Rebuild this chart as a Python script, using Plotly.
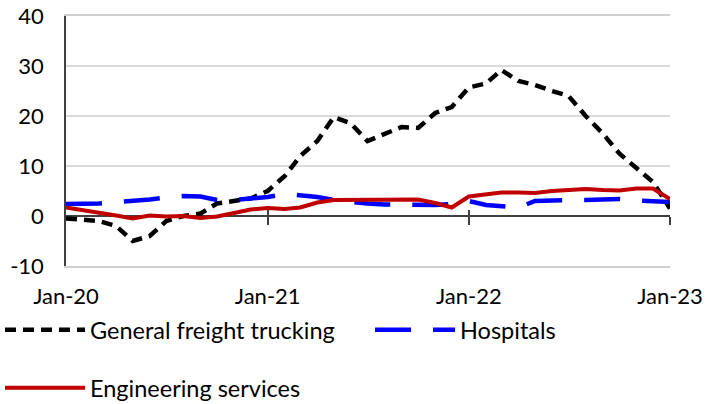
import plotly.graph_objects as go
import pandas as pd

months = pd.date_range("2020-01-01", "2023-01-01", freq="MS")

trucking = [-0.5, -0.7, -1.0, -2.0, -5.0, -4.0, -1.0, 0.0, 0.5, 2.5, 3.0, 3.5,
            5.0, 8.0, 12.0, 15.0, 19.8, 18.5, 15.0, 16.5, 17.8, 17.6, 20.6, 21.8,
            25.7, 26.5, 29.2, 27.0, 26.2, 25.0, 24.0, 20.0, 16.5, 12.5, 9.5, 6.8, 1.5]
hospitals = [2.4, 2.4, 2.5, 2.8, 3.0, 3.3, 3.7, 4.0, 3.9, 3.2, 3.2, 3.4,
             3.8, 4.4, 4.2, 3.8, 3.2, 2.8, 2.5, 2.3, 2.2, 2.2, 2.2, 2.4,
             3.0, 2.2, 2.0, 1.7, 3.0, 3.2, 3.2, 3.2, 3.3, 3.4, 3.1, 3.0, 2.8]
engineering = [1.7, 1.2, 0.7, 0.1, -0.5, 0.1, -0.1, 0.0, -0.4, -0.1, 0.6, 1.3,
               1.6, 1.4, 1.7, 2.7, 3.2, 3.2, 3.2, 3.3, 3.3, 3.3, 2.6, 1.7,
               3.9, 4.3, 4.7, 4.7, 4.6, 5.0, 5.2, 5.4, 5.2, 5.1, 5.5, 5.5, 3.4]

tick_vals = ["2020-01-01", "2021-01-01", "2022-01-01", "2023-01-01"]
tick_text = ["Jan-20", "Jan-21", "Jan-22", "Jan-23"]
y_tick_vals = [-10, 0, 10, 20, 30, 40]
y_tick_text = ["-10", "0", "10", "20", "30", "40"]

FONT = "Lato, sans-serif"
TICK_FS = 22
LEG_FS = 23.5

fig = go.Figure()
fig.add_trace(go.Scatter(x=months, y=trucking, mode="lines", name="General freight trucking",
                         line=dict(color="#000000", width=4.5, dash="11px,7px"), legend="legend"))
fig.add_trace(go.Scatter(x=months, y=hospitals, mode="lines", name="Hospitals",
                         line=dict(color="#0000FF", width=4.5, dash="36px,22px"), legend="legend3"))
fig.add_trace(go.Scatter(x=months, y=engineering, mode="lines", name="Engineering services",
                         line=dict(color="#C00000", width=4), legend="legend2"))

# invisible traces on overlay axes for tick marks crossing the zero line
fig.add_trace(go.Scatter(x=months, y=trucking, xaxis="x2", mode="lines",
                         line=dict(width=0), showlegend=False, hoverinfo="skip"))
fig.add_trace(go.Scatter(x=months, y=trucking, xaxis="x3", mode="lines",
                         line=dict(width=0), showlegend=False, hoverinfo="skip"))

tick_axis = dict(
    overlaying="x", anchor="free", position=0.2,
    range=["2020-01-01", "2023-01-01"],
    tickvals=tick_vals[1:], showticklabels=False,
    tickwidth=1.5, tickcolor="#404040",
    showgrid=False, zeroline=False, showline=False, automargin=False,
)

legend_common = dict(
    orientation="h", xref="container", yref="container",
    xanchor="left", yanchor="middle", itemwidth=80,
    font=dict(family=FONT, size=LEG_FS, color="#000000"),
    bgcolor="rgba(0,0,0,0)", itemclick=False,
)

fig.update_layout(
    width=715, height=404,
    margin=dict(l=66, r=45, t=16, b=138, autoexpand=False),
    paper_bgcolor="white", plot_bgcolor="white",
    font=dict(family=FONT, size=TICK_FS, color="#000000"),
    xaxis=dict(
        range=["2020-01-01", "2023-01-01"],
        tickvals=tick_vals, ticktext=tick_text,
        ticks="", showgrid=False, zeroline=False,
        showline=True, linecolor="#d0d0d0", linewidth=1.5, mirror=True,
        ticklabelstandoff=10, automargin=False,
        tickfont=dict(family=FONT, size=TICK_FS, color="#000000"),
    ),
    xaxis2=dict(tick_axis, ticks="outside", ticklen=8),
    xaxis3=dict(tick_axis, ticks="inside", ticklen=6),
    yaxis=dict(
        range=[-10, 40], tickvals=y_tick_vals, ticktext=y_tick_text,
        showgrid=True, gridcolor="#d9d9d9", gridwidth=1.5,
        zeroline=True, zerolinecolor="#404040", zerolinewidth=1.5,
        showline=True, linecolor="#404040", linewidth=1.5,
        ticks="", ticklabelstandoff=16, automargin=False,
        tickfont=dict(family=FONT, size=TICK_FS, color="#000000"),
    ),
    legend=dict(legend_common, x=0.0, y=1 - 330 / 404),
    legend3=dict(legend_common, x=370 / 715, y=1 - 330 / 404),
    legend2=dict(legend_common, x=0.0, y=1 - 388 / 404),
)

fig.write_html("out.html", config={"displayModeBar": False},
               post_script="document.body.style.margin='0';")
